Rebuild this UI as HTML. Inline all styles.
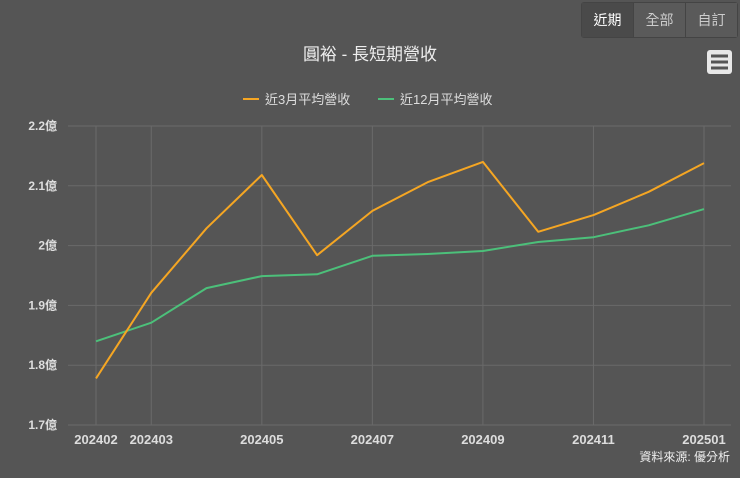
<!DOCTYPE html>
<html><head><meta charset="utf-8"><style>
body{margin:0;background:#555555;width:740px;height:478px;overflow:hidden;font-family:"Liberation Sans","Noto Sans CJK TC",sans-serif}
.btns{position:absolute;top:2px;right:2px;display:flex;border:1px solid #444;border-radius:3px}
.btn{width:51px;height:34px;line-height:34px;text-align:center;color:#ccc;font-size:14px;background:#5a5a5a;border-left:1px solid #444}
.btn.on{background:#4a4a4a;color:#fff;border-left:none}
</style></head><body>
<div class="btns">
<div class="btn on">近期</div>
<div class="btn">全部</div>
<div class="btn">自訂</div>
</div>
<svg id="c" width="740" height="478" style="position:absolute;left:0;top:0"></svg>
<script>
const categories=["202402","202403","202404","202405","202406","202407","202408","202409","202410","202411","202412","202501"];
const series3=[1.778,1.921,2.029,2.118,1.984,2.058,2.106,2.140,2.023,2.051,2.090,2.138];
const series12=[1.840,1.871,1.929,1.949,1.952,1.983,1.986,1.991,2.006,2.014,2.034,2.061];
const yTicks=[1.7,1.8,1.9,2.0,2.1,2.2];
const yTickLabels=["1.7億","1.8億","1.9億","2億","2.1億","2.2億"];
const xLabelIdx=[0,1,3,5,7,9,11];
const svg=document.getElementById('c');const NS="http://www.w3.org/2000/svg";
function x(i){return 96+i*(704-96)/11;}
function y(v){return 425-(v-1.7)*(425-126)/0.5;}
function el(t,a,txt){const e=document.createElementNS(NS,t);for(const k in a)e.setAttribute(k,a[k]);if(txt!=null)e.textContent=txt;svg.appendChild(e);return e;}
let e;
e=el('text',{x:370,y:60,fill:'#eee','font-size':17,'text-anchor':'middle'},'圓裕 - 長短期營收');

e=el('rect',{x:707,y:50,width:25,height:24,rx:3,fill:'#e8e8e8'});

[56,62,68].forEach(yy=>{el('rect',{x:711,y:yy-1.5,width:17,height:3,fill:'#555'});});
e=el('line',{x1:243,y1:99,x2:259,y2:99,stroke:'#f5a623','stroke-width':2});

e=el('text',{x:265,y:104,fill:'#ddd','font-size':13},'近3月平均營收');

e=el('line',{x1:378,y1:99,x2:394,y2:99,stroke:'#4cc07a','stroke-width':2});

e=el('text',{x:400,y:104,fill:'#ddd','font-size':13},'近12月平均營收');

yTicks.forEach((t,i)=>{
 e=el('line',{x1:68,x2:731,y1:y(t),y2:y(t),stroke:'#6a6a6a','stroke-width':1});
 
 e=el('text',{x:57,y:y(t)+4,fill:'#ddd','font-size':12,'font-weight':'bold','text-anchor':'end'},yTickLabels[i]);
 
});
xLabelIdx.forEach(i=>{
 e=el('line',{x1:x(i),x2:x(i),y1:126,y2:425,stroke:'#6a6a6a','stroke-width':1});
 
 e=el('text',{x:x(i),y:444,fill:'#ddd','font-size':13,'font-weight':'bold','text-anchor':'middle'},categories[i]);
 
});
function line(vals,color,name){
 const d=vals.map((v,i)=>(i?'L':'M')+x(i).toFixed(1)+','+y(v).toFixed(1)).join('');
 const p=el('path',{d:d,fill:'none',stroke:color,'stroke-width':2,'stroke-linejoin':'round'});
 
}
line(series12,'#4cc07a','line-12m-avg');
line(series3,'#f5a623','line-3m-avg');
e=el('text',{x:730,y:461,fill:'#eee','font-size':12,'text-anchor':'end'},'資料來源: 優分析');

</script>
</body></html>
